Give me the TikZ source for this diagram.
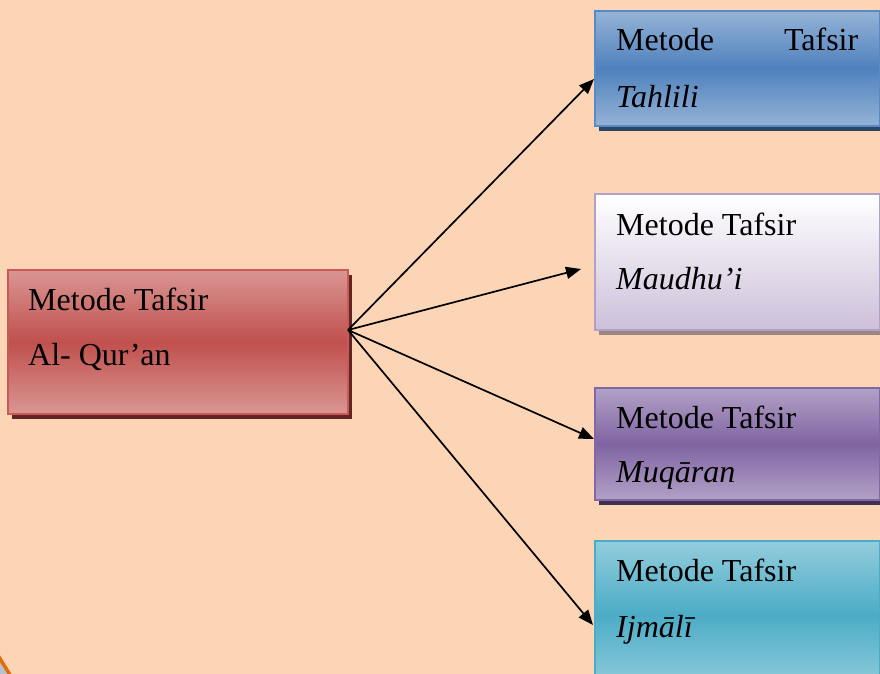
\documentclass[tikz,border=0pt]{standalone}
\usepackage{fontspec}
\setmainfont{Liberation Serif}
\usetikzlibrary{arrows.meta,shadows}

% palette
\definecolor{paper}{HTML}{FBD5B5}
\definecolor{redlight}{HTML}{DA9694}
\definecolor{redmid}{HTML}{C0504D}
\definecolor{redline}{HTML}{C95A57}
\definecolor{redshadow}{HTML}{632523}
\definecolor{bluelight}{HTML}{95B3D7}
\definecolor{bluemid}{HTML}{4F81BD}
\definecolor{blueline}{HTML}{5A8AC4}
\definecolor{blueshadow}{HTML}{2A4566}
\definecolor{lavtop}{HTML}{FFFFFF}
\definecolor{lavbottom}{HTML}{CCC0DA}
\definecolor{lavline}{HTML}{B2A1C7}
\definecolor{lavshadow}{HTML}{9E8683}
\definecolor{purplight}{HTML}{B2A1C7}
\definecolor{purpmid}{HTML}{8064A2}
\definecolor{purpline}{HTML}{8367A5}
\definecolor{purpshadow}{HTML}{3F3151}
\definecolor{aqualight}{HTML}{93CDDD}
\definecolor{aquamid}{HTML}{4BACC6}
\definecolor{aqualine}{HTML}{4BACC6}
\definecolor{arcorange}{HTML}{E36C09}
\definecolor{arcfill}{HTML}{B8C2CC}

\begin{document}
\begin{tikzpicture}[x=1pt,y=-1pt,
  panel/.style={rectangle, anchor=north west, inner sep=0pt, line width=2pt},
  caption/.style={anchor=base west, inner sep=0pt, font=\fontsize{32}{38}\selectfont},
  arr/.style={line width=1.7pt, -{Triangle[length=15pt,width=12pt]}},
  shade3/.style n args={3}{top color=#1, bottom color=#3, middle color=#2},
]
\useasboundingbox (0,0) rectangle (880,674);
\fill[paper] (0,0) rectangle (880,674);

% corner arc
\fill[arcfill] (-4,652) .. controls (2,662) .. (12,678) -- (-4,678) -- cycle;
\draw[arcorange, line width=3.5pt] (-4,652) .. controls (2,662) .. (12,678);

% source box
\node[panel, draw=redline, minimum width=340pt, minimum height=144pt,
      shade3={redlight}{redmid}{redlight},
      drop shadow={shadow xshift=4pt, shadow yshift=-5pt, fill=redshadow, opacity=1}]
      (src) at (7,269) {};
\node[caption] (srcA) at (28,310) {Metode Tafsir};
\node[caption] (srcB) at (28,365) {Al- Qur’an};

% target boxes
\node[panel, draw=blueline, minimum width=285pt, minimum height=115pt,
      shade3={bluelight}{bluemid}{bluelight},
      drop shadow={shadow xshift=4pt, shadow yshift=-5pt, fill=blueshadow, opacity=1}]
      (tah) at (594,10) {};
\node[caption] (tahA) at (616,51) {\makebox[242pt][s]{Metode\hfill Tafsir}};
\node[caption] (tahB) at (616,107) {\itshape Tahlili};

\node[panel, draw=lavline, minimum width=285pt, minimum height=136pt,
      top color=lavtop, bottom color=lavbottom,
      drop shadow={shadow xshift=4pt, shadow yshift=-5pt, fill=lavshadow, opacity=1}]
      (mau) at (594,193) {};
\node[caption] (mauA) at (616,235) {Metode Tafsir};
\node[caption] (mauB) at (616,289) {\itshape Maudhu’i};

\node[panel, draw=purpline, minimum width=285pt, minimum height=112pt,
      shade3={purplight}{purpmid}{purplight},
      drop shadow={shadow xshift=4pt, shadow yshift=-5pt, fill=purpshadow, opacity=1}]
      (muq) at (594,387) {};
\node[caption] (muqA) at (616,428) {Metode Tafsir};
\node[caption] (muqB) at (616,482) {\itshape Muqāran};

\node[panel, draw=aqualine, minimum width=285pt, minimum height=148pt,
      shade3={aqualight}{aquamid}{aqualight}]
      (ijm) at (594,540) {};
\node[caption] (ijmA) at (616,581) {Metode Tafsir};
\node[caption] (ijmB) at (616,637) {\itshape Ijmālī};

% connectors
\coordinate (hub) at (348,330);
\coordinate (tahIn) at (594,79);
\coordinate (mauIn) at (581,269);
\coordinate (muqIn) at (594,439);
\coordinate (ijmIn) at (593,625);
\draw[arr] (hub) -- (tahIn);
\draw[arr] (hub) -- (mauIn);
\draw[arr] (hub) -- (muqIn);
\draw[arr] (hub) -- (ijmIn);
\end{tikzpicture}
\end{document}
